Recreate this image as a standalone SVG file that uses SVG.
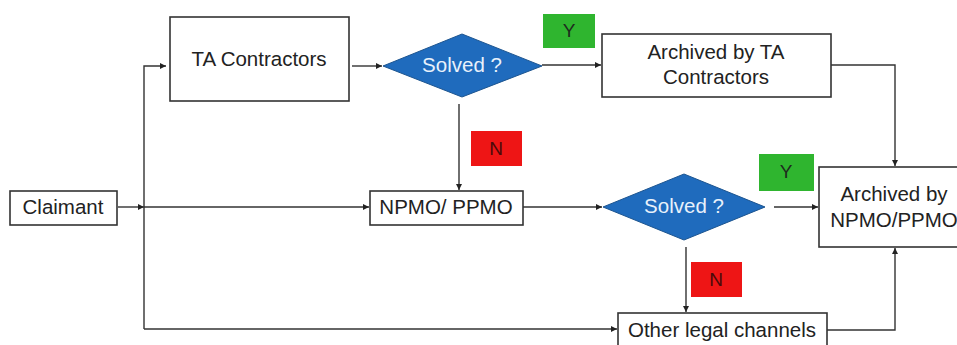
<svg xmlns="http://www.w3.org/2000/svg" width="957" height="345" viewBox="0 0 957 345">
<style>
.box{fill:#fff;stroke:#333;stroke-width:1.6}
.dia{fill:#1f6bbd;stroke:#1d5590;stroke-width:1}
.t{font-family:"Liberation Sans",Arial,sans-serif;font-size:20.5px;fill:#222;text-anchor:middle}
.w{fill:#e8f1fb}
.yes{fill:#2fb52f}
.no{fill:#ee1515}
.lbl{font-family:"Liberation Sans",Arial,sans-serif;font-size:19px;text-anchor:middle}
.ln{fill:none;stroke:#333;stroke-width:1.4}
</style>
<defs>
<marker id="ah" viewBox="0 0 10 10" refX="10" refY="5" markerWidth="6" markerHeight="6" orient="auto" markerUnits="userSpaceOnUse">
<path d="M0,0 L10,5 L0,10 z" fill="#222"/>
</marker>
</defs>
<rect width="957" height="345" fill="#fff"/>
<g id="connectors">
<path class="ln" d="M118,207 H144" marker-end="url(#ah)"/>
<path class="ln" d="M144,207 H369" marker-end="url(#ah)"/>
<path class="ln" d="M144,329 V66 H166" marker-end="url(#ah)"/>
<path class="ln" d="M144,329 H617" marker-end="url(#ah)"/>
<path class="ln" d="M352,66 H382" marker-end="url(#ah)"/>
<path class="ln" d="M542,65 H601" marker-end="url(#ah)"/>
<path class="ln" d="M459,104 V190" marker-end="url(#ah)"/>
<path class="ln" d="M831,65 H895 V166" marker-end="url(#ah)"/>
<path class="ln" d="M523,207 H602" marker-end="url(#ah)"/>
<path class="ln" d="M774,207 H818" marker-end="url(#ah)"/>
<path class="ln" d="M686,247 V312" marker-end="url(#ah)"/>
<path class="ln" d="M827,330 H895 V248" marker-end="url(#ah)"/>
</g>
<g id="ta-contractors">
<rect class="box" x="170" y="17" width="179" height="84"/>
<text class="t" x="259" y="66">TA Contractors</text>
</g>
<g id="solved1">
<polygon class="dia" points="383,66 462,34 542,66 462,97"/>
<text class="t w" x="462" y="72">Solved ?</text>
</g>
<g id="y1">
<rect class="yes" x="543" y="14" width="52" height="34"/>
<text class="lbl" x="569" y="37" fill="#1e2a1e">Y</text>
</g>
<g id="archived-ta">
<rect class="box" x="602" y="34" width="229" height="63"/>
<text class="t" x="716" y="59">Archived by TA</text>
<text class="t" x="716" y="84">Contractors</text>
</g>
<g id="n1">
<rect class="no" x="471" y="131" width="51" height="35"/>
<text class="lbl" x="496" y="155" fill="#4a0a0a">N</text>
</g>
<g id="claimant">
<rect class="box" x="10" y="191" width="107" height="34"/>
<text class="t" x="63" y="214">Claimant</text>
</g>
<g id="npmo">
<rect class="box" x="370" y="191" width="153" height="34"/>
<text class="t" x="446" y="214">NPMO/ PPMO</text>
</g>
<g id="solved2">
<polygon class="dia" points="603,207 684,174 765,207 684,240"/>
<text class="t w" x="684" y="213">Solved ?</text>
</g>
<g id="y2">
<rect class="yes" x="759" y="154" width="55" height="37"/>
<text class="lbl" x="786" y="178" fill="#1e2a1e">Y</text>
</g>
<g id="archived-npmo">
<rect class="box" x="819" y="167" width="150" height="80"/>
<text class="t" x="894" y="201">Archived by</text>
<text class="t" x="894" y="227">NPMO/PPMO</text>
</g>
<g id="n2">
<rect class="no" x="691" y="262" width="51" height="35"/>
<text class="lbl" x="716" y="286" fill="#4a0a0a">N</text>
</g>
<g id="other-legal">
<rect class="box" x="618" y="313" width="209" height="40"/>
<text class="t" x="722" y="337">Other legal channels</text>
</g>
</svg>
